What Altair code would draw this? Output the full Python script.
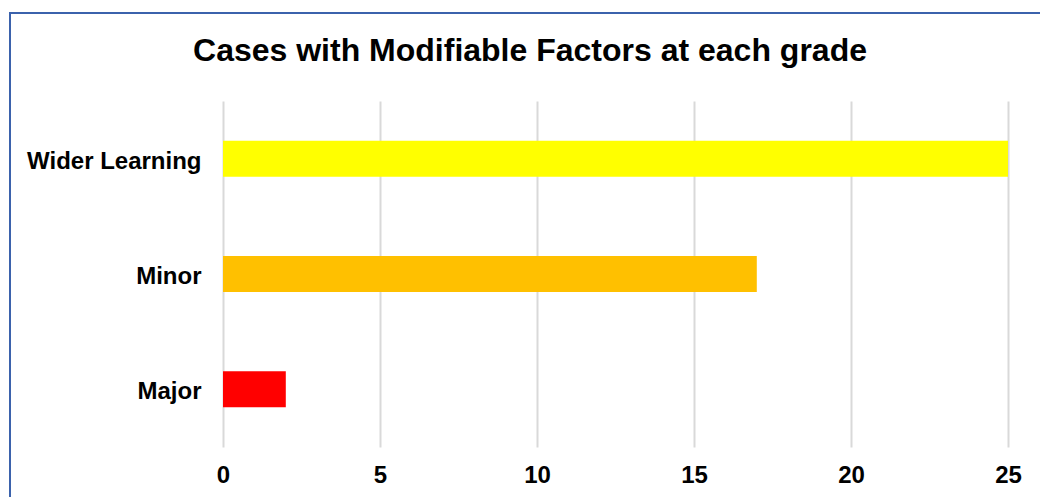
import altair as alt
import pandas as pd

# Chart data
grades = ["Wider Learning", "Minor", "Major"]
cases = [25, 17, 2]
bar_colors = ["#FFFF00", "#FFC000", "#FF0000"]
x_ticks = [0, 5, 10, 15, 20, 25]
title_text = "Cases with Modifiable Factors at each grade"

FONT = "Liberation Sans"
PLOT_W, PLOT_H = 785, 346
PAD = {"left": 223, "top": 101, "right": 32, "bottom": 50}

df = pd.DataFrame({"grade": grades, "cases": cases})

bars = alt.Chart(df).mark_bar().encode(
    x=alt.X(
        "cases:Q",
        scale=alt.Scale(domain=[x_ticks[0], x_ticks[-1]], nice=False),
        axis=alt.Axis(
            values=x_ticks,
            title=None,
            domain=False,
            ticks=False,
            grid=True,
            gridColor="#D9D9D9",
            gridWidth=2,
            labelFont=FONT,
            labelFontSize=24,
            labelFontWeight="bold",
            labelColor="#000000",
            labelPadding=16,
            labelFlush=False,
            labelOverlap=False,
        ),
    ),
    y=alt.Y(
        "grade:N",
        sort=grades,
        scale=alt.Scale(paddingInner=0.688, paddingOuter=0.344),
        axis=alt.Axis(
            title=None,
            domain=False,
            ticks=False,
            grid=False,
            labelFont=FONT,
            labelFontSize=24,
            labelFontWeight="bold",
            labelColor="#000000",
            labelPadding=22,
            labelOffset=3,
        ),
    ),
    color=alt.Color(
        "grade:N",
        scale=alt.Scale(domain=grades, range=bar_colors),
        legend=None,
    ),
)

# Chart heading
heading = alt.Chart(pd.DataFrame({"t": [title_text]})).mark_text(
    font=FONT,
    fontSize=32,
    fontWeight="bold",
    color="#000000",
    align="center",
    baseline="alphabetic",
).encode(
    text="t:N",
    x=alt.value(530 - PAD["left"]),
    y=alt.value(61 - PAD["top"]),
)

# Outer frame of the chart box
frame = alt.Chart(pd.DataFrame({"f": [0]})).mark_rect(
    fill=None,
    fillOpacity=0,
    stroke="#3B62AC",
    strokeWidth=2,
    clip=False,
).encode(
    x=alt.value(10 - PAD["left"]),
    x2=alt.value(1040 - PAD["left"] + 20),
    y=alt.value(13 - PAD["top"]),
    y2=alt.value(497 - PAD["top"] + 20),
)

chart = (
    alt.layer(bars, heading, frame)
    .properties(
        width=PLOT_W,
        height=PLOT_H,
        padding=PAD,
        autosize=alt.AutoSizeParams(type="none"),
        background="#FFFFFF",
    )
    .configure_view(stroke=None)
)

chart.save("out.html", embed_options={"renderer": "svg", "actions": False})
